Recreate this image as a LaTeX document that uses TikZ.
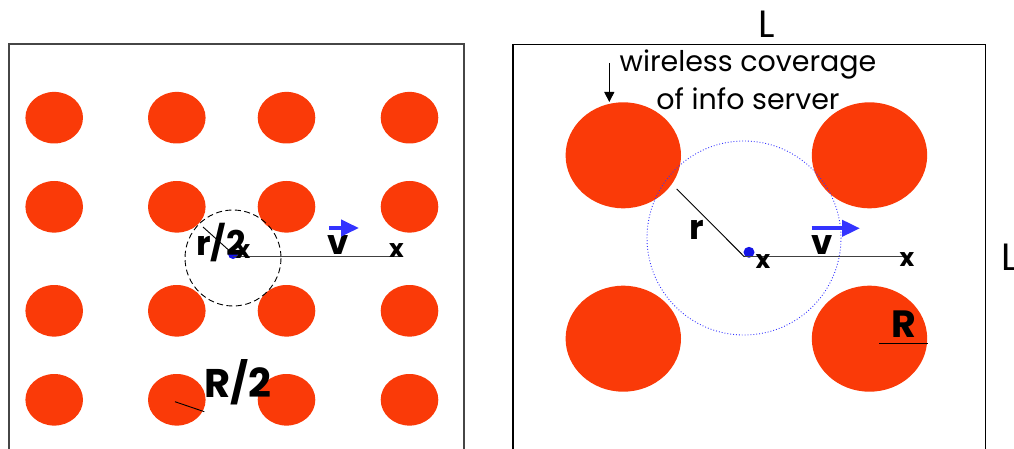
\documentclass[tikz,border=0pt]{standalone}
\usepackage{fontspec}
\setmainfont{Poppins}
\usetikzlibrary{arrows.meta}
\definecolor{disc}{RGB}{250,58,8}
\definecolor{varrow}{RGB}{51,51,255}
\definecolor{dotblue}{RGB}{20,20,230}
\definecolor{boxgray}{RGB}{70,70,70}
\newcommand\fsz[1]{\fontsize{#1}{#1}\selectfont}
\tikzset{
  frame/.style={line width=1.4pt},
  smalldisc/.style={fill=disc},
  bold lab/.style={inner sep=0pt,font=\fsz{34}\bfseries},
  xmark/.style={inner sep=0pt,font=\fsz{25}\bfseries},
  rad/.style={line width=0.9pt},
  track/.style={line width=1.2pt, draw=black!75},
  vel/.style={draw=varrow,line width=4pt,-{Triangle[length=18pt,width=16pt]}},
  bdot/.style={circle,fill=dotblue,inner sep=0pt,minimum size=10pt}
}
\begin{document}
\begin{tikzpicture}[x=1pt,y=-1pt]
\useasboundingbox (0,0) rectangle (1014,449);
\clip (0,0) rectangle (1014,449);
% ---------- left panel ----------
\draw[frame,draw=boxgray] (9,44) rectangle (464,470);
\foreach \cx in {54.2,176.8,286.5,409.5}
  \foreach \cy in {117.7,206.8,310.8,399.8}
    \fill[smalldisc] (\cx,\cy) ellipse [x radius=28.8, y radius=25.8];
\draw[dashed,dash pattern=on 6pt off 3.5pt,line width=0.9pt] (233,258) circle [radius=48];
\node[bdot] (ldot) at (233,254) {};
\coordinate (lend) at (400,256.7);
\coordinate (lstart) at (233,256.7);
\draw[track] (lstart) -- (lend);
\coordinate (lrad) at (203,227);
\draw[rad] (ldot.center) -- (lrad);
\node[xmark] (lx1) at (243,252) {x};
\node[xmark] (lx2) at (396.5,251) {x};
\node[bold lab] (lv) at (338,245) {v};
\coordinate (lva) at (329,228);
\coordinate (lvb) at (359,228);
\draw[vel] (lva) -- (lvb);
\node[bold lab] (lr2) at (221,243) {r/2};
\coordinate (Rl1) at (175,401.7);
\coordinate (Rl2) at (204.3,411.7);
\draw[rad] (Rl1) -- (Rl2);
\node[bold lab,font=\fsz{40}\bfseries] (lR2) at (238,382) {R/2};
% ---------- right panel ----------
\draw[frame,draw=black] (513,44.3) rectangle (985.5,470);
\foreach \cx in {623.3,869.5}
  \foreach \cy in {155.3,338.7}
    \fill[smalldisc] (\cx,\cy) ellipse [x radius=57.7, y radius=53];
\draw[draw=varrow,dotted,line width=0.9pt] (744,238) circle [radius=97];
\node[bdot,minimum size=11pt] (rdot) at (749,252.3) {};
\coordinate (rstart) at (744.3,256.7);
\coordinate (rend) at (907,256.7);
\draw[track] (rstart) -- (rend);
\coordinate (rrad) at (676.7,189);
\draw[rad] (rstart) -- (rrad);
\node[xmark] (rx1) at (763,262) {x};
\node[xmark] (rx2) at (907,260) {x};
\node[bold lab] (rv) at (821.7,245) {v};
\coordinate (rva) at (811.7,228.3);
\coordinate (rvb) at (860,228.3);
\draw[vel] (rva) -- (rvb);
\node[bold lab] (rr) at (697,230) {r};
\coordinate (Rr1) at (879,343.3);
\coordinate (Rr2) at (927.7,343.3);
\draw[line width=1.2pt] (Rr1) -- (Rr2);
\node[bold lab,font=\fsz{38}\bfseries] (rR) at (904,324) {R};
% labels
\node[inner sep=0pt,font=\fsz{38}] (Ltop) at (767,24) {L};
\node[inner sep=0pt,font=\fsz{38}] (Lright) at (1010,257) {L};
\node[inner sep=0pt,font=\fsz{28.5},align=center] (wc) at (748,80) {wireless coverage\\[8pt]of info server};
\coordinate (wa) at (609.3,63);
\coordinate (wb) at (609.3,102);
\draw[line width=0.9pt,-{Triangle[length=10pt,width=10pt]}] (wa) -- (wb);
\end{tikzpicture}
\end{document}
